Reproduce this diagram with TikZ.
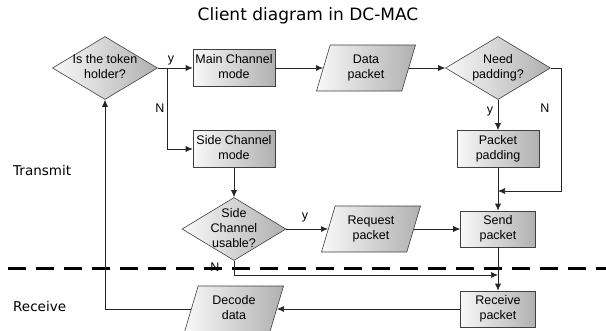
\documentclass[tikz,border=0pt]{standalone}
\usepackage{fontspec}
\setmainfont{Liberation Sans}
\newfontfamily\titlefont{DejaVu Sans}
\usetikzlibrary{shapes.geometric,arrows.meta}
\newcommand\ctext[1]{\makebox[0pt]{\begin{tabular}{@{}c@{}}#1\end{tabular}}}
\begin{document}
\begin{tikzpicture}[x=1pt,y=-1pt,
  base/.style={draw=black!75, line width=0.6pt, left color=gray!5, right color=gray!62,
    font=\fontsize{12.5}{15}\selectfont, inner sep=0pt},
  boxnode/.style={base, rectangle, minimum width=82pt, minimum height=37pt},
  dia/.style={base, diamond, minimum width=105pt, minimum height=63pt},
  para/.style={base, trapezium, trapezium left angle=65.5, trapezium right angle=114.5,
    trapezium stretches body, minimum width=99pt, minimum height=46pt},
  conn/.style={draw=black!85, line width=0.7pt},
  arr/.style={conn, -{Latex[length=7pt,width=6pt]}},
  lab/.style={font=\fontsize{12.5}{15}\selectfont, inner sep=0pt},
  region/.style={font=\titlefont\fontsize{13.5}{16}\selectfont, anchor=west, inner sep=0pt}
]
\useasboundingbox (0,0) rectangle (606,330);

\node[font=\titlefont\fontsize{17}{20}\selectfont, inner sep=0pt] (title) at (308,16) {Client diagram in DC-MAC};
\node[region] (tx) at (13,170) {Transmit};
\node[region] (rx) at (13,306) {Receive};

\draw[line width=3pt, dash pattern=on 18pt off 10pt] (8,268) -- (606,268);

\node[dia] (d1) at (105,68) {\ctext{Is the token\\holder?}};
\node[boxnode] (main) at (234,68) {\ctext{Main Channel\\mode}};
\node[boxnode] (side) at (234,149) {\ctext{Side Channel\\mode}};
\node[para] (data) at (366,68) {\ctext{Data\\packet}};
\node[dia] (d2) at (498,68) {\ctext{Need\\padding?}};
\node[boxnode] (ppad) at (498,149) {\ctext{Packet\\padding}};
\node[boxnode, minimum width=75pt, minimum height=36pt] (send) at (498,229) {\ctext{Send\\packet}};
\node[para] (req) at (371,229) {\ctext{Request\\packet}};
\node[dia, minimum width=104pt] (d3) at (234,229) {\ctext{Side\\Channel\\usable?}};
\node[boxnode, minimum width=75pt, minimum height=36pt] (recv) at (498,309) {\ctext{Receive\\packet}};
\node[para] (dec) at (234,309) {\ctext{Decode\\data}};

\coordinate (b1) at (167,68);
\coordinate (c1) at (561,191);
\coordinate (m1) at (498,191);
\coordinate (m2) at (498,275);

\draw[arr] (d1.east) -- (main.west);
\draw[arr] (b1) |- (side.west);
\draw[arr] (main.east) -- (data.west);
\draw[arr] (data.east) -- (d2.west);
\draw[arr] (d2.south) -- (ppad.north);
\draw[arr] (d2.east) -| (c1) -- (m1);
\draw[arr] (ppad.south) -- (send.north);
\draw[arr] (side.south) -- (d3.north);
\draw[arr] (d3.east) -- (req.west);
\draw[arr] (req.east) -- (send.west);
\draw[arr] (d3.south) |- (m2);
\draw[arr] (send.south) -- (recv.north);
\draw[arr] (recv.west) -- (dec.east);
\draw[arr] (dec.west) -| (d1.south);

\node[lab] (ly1) at (171,60) {y};
\node[lab] (ln1) at (160,108) {N};
\node[lab] (ly2) at (490,111) {y};
\node[lab] (ln2) at (545,108) {N};
\node[lab] (ly3) at (305,217) {y};
\node[lab] (ln3) at (215,267) {N};
\end{tikzpicture}
\end{document}
